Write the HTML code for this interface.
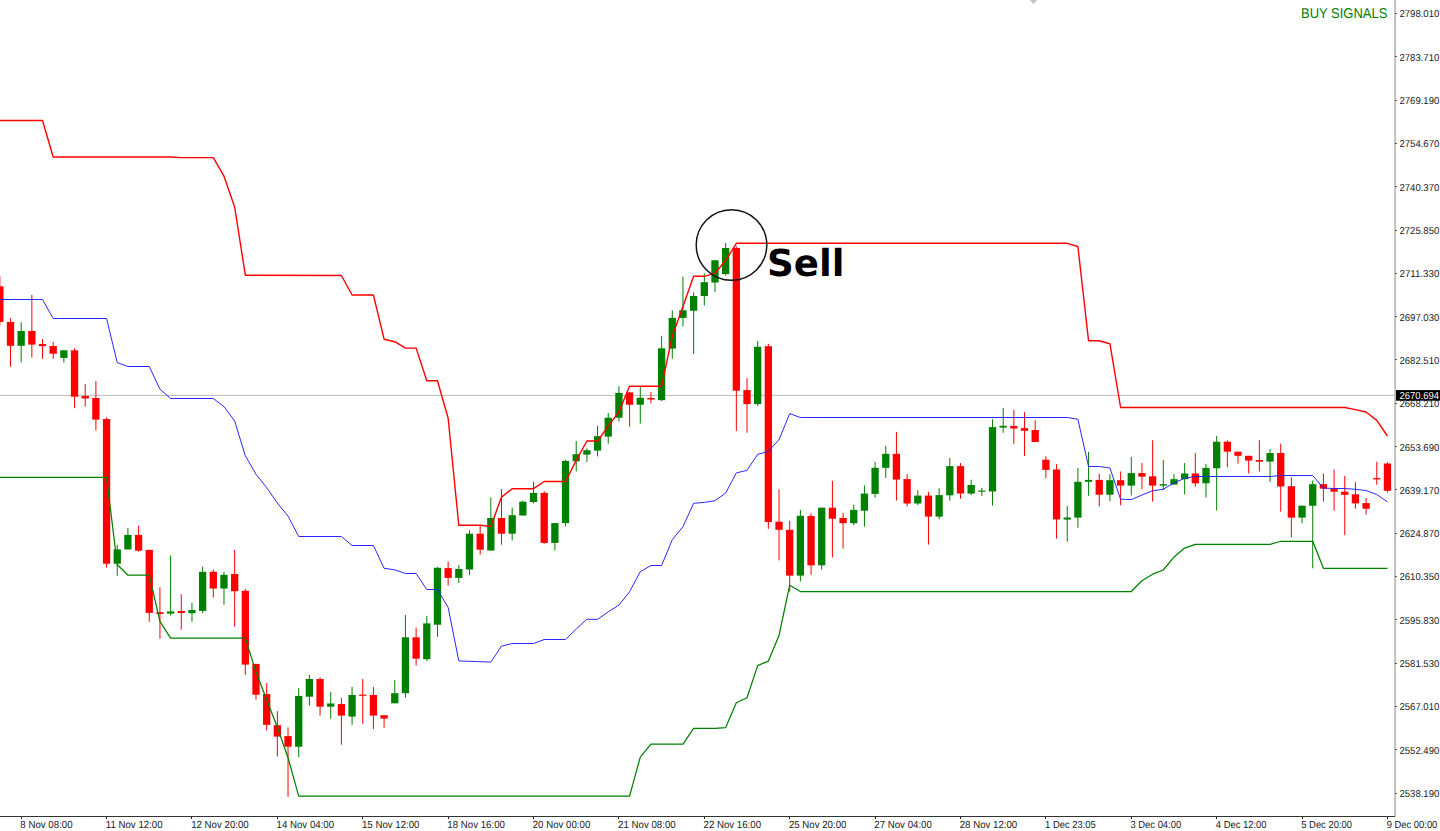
<!DOCTYPE html>
<html><head><meta charset="utf-8"><title>Chart</title>
<style>
html,body{margin:0;padding:0;background:#fff;}
body{width:1440px;height:831px;overflow:hidden;}
svg{display:block;}
text{text-rendering:geometricPrecision;}
</style></head><body>
<svg width="1440" height="831" viewBox="0 0 1440 831" font-family="Liberation Sans, Arial, sans-serif">
<rect x="0" y="0" width="1440" height="831" fill="#fff"/>
<rect x="0" y="394.9" width="1395" height="1.1" fill="#c0c0c0"/>
<rect x="-0.67" y="275.9" width="1" height="49.7" fill="#ff0000"/>
<rect x="-3.82" y="286.3" width="7.3" height="35.6" fill="#ff0000"/>
<rect x="10" y="318" width="1" height="48.8" fill="#ff0000"/>
<rect x="6.85" y="321.9" width="7.3" height="23.9" fill="#ff0000"/>
<rect x="20.67" y="322.2" width="1" height="40.1" fill="#008000"/>
<rect x="17.52" y="331" width="7.3" height="14.8" fill="#008000"/>
<rect x="31.35" y="294.9" width="1" height="62.7" fill="#ff0000"/>
<rect x="28.2" y="331" width="7.3" height="13.6" fill="#ff0000"/>
<rect x="42.02" y="339" width="1" height="19.9" fill="#ff0000"/>
<rect x="38.87" y="344.1" width="7.3" height="2" fill="#ff0000"/>
<rect x="52.7" y="341.9" width="1" height="17" fill="#ff0000"/>
<rect x="49.55" y="346" width="7.3" height="7.7" fill="#ff0000"/>
<rect x="63.37" y="350.3" width="1" height="12.3" fill="#008000"/>
<rect x="60.22" y="350.3" width="7.3" height="7.6" fill="#008000"/>
<rect x="74.04" y="348.3" width="1" height="59.8" fill="#ff0000"/>
<rect x="70.89" y="350.3" width="7.3" height="46.4" fill="#ff0000"/>
<rect x="84.72" y="384.2" width="1" height="22.5" fill="#ff0000"/>
<rect x="81.57" y="396" width="7.3" height="2.5" fill="#ff0000"/>
<rect x="95.39" y="381" width="1" height="49.5" fill="#ff0000"/>
<rect x="92.24" y="398" width="7.3" height="21.6" fill="#ff0000"/>
<rect x="106.07" y="417.4" width="1" height="150.2" fill="#ff0000"/>
<rect x="102.92" y="419" width="7.3" height="144.7" fill="#ff0000"/>
<rect x="116.74" y="544.8" width="1" height="30.9" fill="#008000"/>
<rect x="113.59" y="549.4" width="7.3" height="14.3" fill="#008000"/>
<rect x="127.41" y="528" width="1" height="21.4" fill="#008000"/>
<rect x="124.26" y="534.9" width="7.3" height="14.5" fill="#008000"/>
<rect x="138.09" y="525.5" width="1" height="26.1" fill="#ff0000"/>
<rect x="134.94" y="534.9" width="7.3" height="15.8" fill="#ff0000"/>
<rect x="148.76" y="549.9" width="1" height="71.9" fill="#ff0000"/>
<rect x="145.61" y="549.9" width="7.3" height="63" fill="#ff0000"/>
<rect x="159.44" y="587.3" width="1" height="51.3" fill="#ff0000"/>
<rect x="156.29" y="612.2" width="7.3" height="1.7" fill="#ff0000"/>
<rect x="170.11" y="555.3" width="1" height="60.2" fill="#008000"/>
<rect x="166.96" y="611.4" width="7.3" height="2.2" fill="#008000"/>
<rect x="180.78" y="594.2" width="1" height="35.5" fill="#ff0000"/>
<rect x="177.63" y="611.1" width="7.3" height="1.9" fill="#ff0000"/>
<rect x="191.46" y="603" width="1" height="18.8" fill="#008000"/>
<rect x="188.31" y="610" width="7.3" height="3.2" fill="#008000"/>
<rect x="202.13" y="566.7" width="1" height="46.5" fill="#008000"/>
<rect x="198.98" y="571.8" width="7.3" height="39.1" fill="#008000"/>
<rect x="212.81" y="569.3" width="1" height="28.1" fill="#ff0000"/>
<rect x="209.66" y="571.8" width="7.3" height="16.7" fill="#ff0000"/>
<rect x="223.48" y="571.8" width="1" height="32.9" fill="#008000"/>
<rect x="220.33" y="574.8" width="7.3" height="13.7" fill="#008000"/>
<rect x="234.15" y="549.9" width="1" height="76.8" fill="#ff0000"/>
<rect x="231" y="574" width="7.3" height="17.2" fill="#ff0000"/>
<rect x="244.83" y="588.8" width="1" height="86" fill="#ff0000"/>
<rect x="241.68" y="590.8" width="7.3" height="73.8" fill="#ff0000"/>
<rect x="255.5" y="663.9" width="1" height="35.7" fill="#ff0000"/>
<rect x="252.35" y="663.9" width="7.3" height="30.8" fill="#ff0000"/>
<rect x="266.18" y="683" width="1" height="47.4" fill="#ff0000"/>
<rect x="263.03" y="694.1" width="7.3" height="30.7" fill="#ff0000"/>
<rect x="276.85" y="711.2" width="1" height="45.3" fill="#ff0000"/>
<rect x="273.7" y="725.2" width="7.3" height="11.4" fill="#ff0000"/>
<rect x="287.52" y="727.4" width="1" height="69.4" fill="#ff0000"/>
<rect x="284.37" y="736.1" width="7.3" height="10.6" fill="#ff0000"/>
<rect x="298.2" y="688" width="1" height="69.2" fill="#008000"/>
<rect x="295.05" y="695.9" width="7.3" height="50.8" fill="#008000"/>
<rect x="308.87" y="674.8" width="1" height="30.9" fill="#008000"/>
<rect x="305.72" y="679" width="7.3" height="17.7" fill="#008000"/>
<rect x="319.55" y="677.3" width="1" height="38.3" fill="#ff0000"/>
<rect x="316.4" y="679" width="7.3" height="27.7" fill="#ff0000"/>
<rect x="330.22" y="692" width="1" height="26.8" fill="#008000"/>
<rect x="327.07" y="703.5" width="7.3" height="3.2" fill="#008000"/>
<rect x="340.89" y="698" width="1" height="46.7" fill="#ff0000"/>
<rect x="337.74" y="704.1" width="7.3" height="11.5" fill="#ff0000"/>
<rect x="351.57" y="687" width="1" height="37.8" fill="#008000"/>
<rect x="348.42" y="695" width="7.3" height="21.6" fill="#008000"/>
<rect x="362.24" y="679" width="1" height="44.7" fill="#ff0000"/>
<rect x="359.09" y="694.6" width="7.3" height="1.2" fill="#ff0000"/>
<rect x="372.92" y="687" width="1" height="42" fill="#ff0000"/>
<rect x="369.77" y="695" width="7.3" height="20.6" fill="#ff0000"/>
<rect x="383.59" y="715.2" width="1" height="12.5" fill="#ff0000"/>
<rect x="380.44" y="715.2" width="7.3" height="3.4" fill="#ff0000"/>
<rect x="394.26" y="680.2" width="1" height="23.1" fill="#008000"/>
<rect x="391.11" y="693.2" width="7.3" height="10.1" fill="#008000"/>
<rect x="404.94" y="615" width="1" height="82.6" fill="#008000"/>
<rect x="401.79" y="637.3" width="7.3" height="55.9" fill="#008000"/>
<rect x="415.61" y="627.6" width="1" height="37.9" fill="#ff0000"/>
<rect x="412.46" y="637.3" width="7.3" height="21.4" fill="#ff0000"/>
<rect x="426.29" y="615.8" width="1" height="45.2" fill="#008000"/>
<rect x="423.14" y="623.4" width="7.3" height="35.8" fill="#008000"/>
<rect x="436.96" y="567" width="1" height="69.8" fill="#008000"/>
<rect x="433.81" y="567.8" width="7.3" height="56.9" fill="#008000"/>
<rect x="447.63" y="561.6" width="1" height="23.9" fill="#ff0000"/>
<rect x="444.48" y="568.1" width="7.3" height="9.8" fill="#ff0000"/>
<rect x="458.31" y="565" width="1" height="18" fill="#008000"/>
<rect x="455.16" y="569" width="7.3" height="8.9" fill="#008000"/>
<rect x="468.98" y="530.3" width="1" height="44.7" fill="#008000"/>
<rect x="465.83" y="533.7" width="7.3" height="35.8" fill="#008000"/>
<rect x="479.66" y="525.8" width="1" height="28.8" fill="#ff0000"/>
<rect x="476.51" y="533.7" width="7.3" height="16" fill="#ff0000"/>
<rect x="490.33" y="497.5" width="1" height="53" fill="#008000"/>
<rect x="487.18" y="518" width="7.3" height="32.5" fill="#008000"/>
<rect x="501" y="489" width="1" height="55.6" fill="#ff0000"/>
<rect x="497.85" y="518" width="7.3" height="15.7" fill="#ff0000"/>
<rect x="511.68" y="507.6" width="1" height="32.8" fill="#008000"/>
<rect x="508.53" y="515.2" width="7.3" height="18.5" fill="#008000"/>
<rect x="522.35" y="500.5" width="1" height="15" fill="#008000"/>
<rect x="519.2" y="501.7" width="7.3" height="13.8" fill="#008000"/>
<rect x="533.03" y="481.8" width="1" height="21.6" fill="#008000"/>
<rect x="529.88" y="492.9" width="7.3" height="9.1" fill="#008000"/>
<rect x="543.7" y="491.1" width="1" height="52.7" fill="#ff0000"/>
<rect x="540.55" y="492.9" width="7.3" height="50" fill="#ff0000"/>
<rect x="554.37" y="523" width="1" height="27.4" fill="#008000"/>
<rect x="551.22" y="523.1" width="7.3" height="19.8" fill="#008000"/>
<rect x="565.05" y="460" width="1" height="66.4" fill="#008000"/>
<rect x="561.9" y="460.9" width="7.3" height="62.2" fill="#008000"/>
<rect x="575.72" y="441" width="1" height="30.4" fill="#008000"/>
<rect x="572.57" y="454.2" width="7.3" height="7.1" fill="#008000"/>
<rect x="586.4" y="448.3" width="1" height="13.7" fill="#008000"/>
<rect x="583.25" y="450.2" width="7.3" height="4.4" fill="#008000"/>
<rect x="597.07" y="425.8" width="1" height="30.6" fill="#008000"/>
<rect x="593.92" y="436.2" width="7.3" height="14.4" fill="#008000"/>
<rect x="607.74" y="413" width="1" height="30.7" fill="#008000"/>
<rect x="604.59" y="417.7" width="7.3" height="18.9" fill="#008000"/>
<rect x="618.42" y="386.2" width="1" height="35.2" fill="#008000"/>
<rect x="615.27" y="392.9" width="7.3" height="24.8" fill="#008000"/>
<rect x="629.09" y="392" width="1" height="34.6" fill="#ff0000"/>
<rect x="625.94" y="392.4" width="7.3" height="12.3" fill="#ff0000"/>
<rect x="639.77" y="387" width="1" height="36.6" fill="#008000"/>
<rect x="636.62" y="397.8" width="7.3" height="6.9" fill="#008000"/>
<rect x="650.44" y="392.1" width="1" height="11.3" fill="#ff0000"/>
<rect x="647.29" y="398" width="7.3" height="1.5" fill="#ff0000"/>
<rect x="661.11" y="335.8" width="1" height="65" fill="#008000"/>
<rect x="657.96" y="348.3" width="7.3" height="51.9" fill="#008000"/>
<rect x="671.79" y="310.3" width="1" height="48.4" fill="#008000"/>
<rect x="668.64" y="317.9" width="7.3" height="30.7" fill="#008000"/>
<rect x="682.46" y="276.6" width="1" height="49.9" fill="#008000"/>
<rect x="679.31" y="310.3" width="7.3" height="7.6" fill="#008000"/>
<rect x="693.14" y="292.3" width="1" height="61.9" fill="#008000"/>
<rect x="689.99" y="296" width="7.3" height="14.7" fill="#008000"/>
<rect x="703.81" y="273.3" width="1" height="32.3" fill="#008000"/>
<rect x="700.66" y="282.2" width="7.3" height="13.8" fill="#008000"/>
<rect x="714.48" y="260.3" width="1" height="31.5" fill="#008000"/>
<rect x="711.33" y="260.3" width="7.3" height="22.2" fill="#008000"/>
<rect x="725.16" y="243" width="1" height="32.5" fill="#008000"/>
<rect x="722.01" y="248" width="7.3" height="26.1" fill="#008000"/>
<rect x="735.83" y="246.3" width="1" height="184.7" fill="#ff0000"/>
<rect x="732.68" y="248" width="7.3" height="142.7" fill="#ff0000"/>
<rect x="746.51" y="378.2" width="1" height="54.4" fill="#ff0000"/>
<rect x="743.36" y="390.1" width="7.3" height="14" fill="#ff0000"/>
<rect x="757.18" y="341" width="1" height="65" fill="#008000"/>
<rect x="754.03" y="346.8" width="7.3" height="57.3" fill="#008000"/>
<rect x="767.85" y="343.8" width="1" height="185" fill="#ff0000"/>
<rect x="764.7" y="346.2" width="7.3" height="175.8" fill="#ff0000"/>
<rect x="778.53" y="489.2" width="1" height="71.2" fill="#ff0000"/>
<rect x="775.38" y="521.7" width="7.3" height="8.1" fill="#ff0000"/>
<rect x="789.2" y="520.8" width="1" height="70.8" fill="#ff0000"/>
<rect x="786.05" y="529.8" width="7.3" height="45.8" fill="#ff0000"/>
<rect x="799.88" y="509.9" width="1" height="71.6" fill="#008000"/>
<rect x="796.73" y="515.8" width="7.3" height="59.8" fill="#008000"/>
<rect x="810.55" y="513.3" width="1" height="61.4" fill="#ff0000"/>
<rect x="807.4" y="516.1" width="7.3" height="49.2" fill="#ff0000"/>
<rect x="821.22" y="507.7" width="1" height="62" fill="#008000"/>
<rect x="818.07" y="507.7" width="7.3" height="57.6" fill="#008000"/>
<rect x="831.9" y="480.8" width="1" height="76.7" fill="#ff0000"/>
<rect x="828.75" y="507.7" width="7.3" height="11" fill="#ff0000"/>
<rect x="842.57" y="512.9" width="1" height="35.7" fill="#ff0000"/>
<rect x="839.42" y="518" width="7.3" height="5.2" fill="#ff0000"/>
<rect x="853.25" y="504.8" width="1" height="20.2" fill="#008000"/>
<rect x="850.1" y="509.9" width="7.3" height="13.3" fill="#008000"/>
<rect x="863.92" y="485.5" width="1" height="41.2" fill="#008000"/>
<rect x="860.77" y="493.6" width="7.3" height="17.1" fill="#008000"/>
<rect x="874.59" y="461.8" width="1" height="35.8" fill="#008000"/>
<rect x="871.44" y="467.8" width="7.3" height="26.1" fill="#008000"/>
<rect x="885.27" y="445.9" width="1" height="32" fill="#008000"/>
<rect x="882.12" y="453.8" width="7.3" height="14" fill="#008000"/>
<rect x="895.94" y="431.9" width="1" height="68.7" fill="#ff0000"/>
<rect x="892.79" y="453.8" width="7.3" height="25.8" fill="#ff0000"/>
<rect x="906.62" y="474.2" width="1" height="32.3" fill="#ff0000"/>
<rect x="903.47" y="479.1" width="7.3" height="24.4" fill="#ff0000"/>
<rect x="917.29" y="490.2" width="1" height="14.8" fill="#008000"/>
<rect x="914.14" y="495.6" width="7.3" height="7.9" fill="#008000"/>
<rect x="927.96" y="491.9" width="1" height="52.7" fill="#ff0000"/>
<rect x="924.81" y="495.6" width="7.3" height="21" fill="#ff0000"/>
<rect x="938.64" y="488.3" width="1" height="30.9" fill="#008000"/>
<rect x="935.49" y="495.1" width="7.3" height="21.5" fill="#008000"/>
<rect x="949.31" y="458.1" width="1" height="42.6" fill="#008000"/>
<rect x="946.16" y="466.1" width="7.3" height="29.2" fill="#008000"/>
<rect x="959.99" y="463.1" width="1" height="35.6" fill="#ff0000"/>
<rect x="956.84" y="466.1" width="7.3" height="27.4" fill="#ff0000"/>
<rect x="970.66" y="479.7" width="1" height="15.2" fill="#008000"/>
<rect x="967.51" y="485" width="7.3" height="8.6" fill="#008000"/>
<rect x="981.33" y="487.8" width="1" height="8.1" fill="#008000"/>
<rect x="978.18" y="490.5" width="7.3" height="1.2" fill="#008000"/>
<rect x="992.01" y="419.2" width="1" height="86.3" fill="#008000"/>
<rect x="988.86" y="427.1" width="7.3" height="64.4" fill="#008000"/>
<rect x="1002.68" y="407.9" width="1" height="24.9" fill="#008000"/>
<rect x="999.53" y="425.8" width="7.3" height="1.8" fill="#008000"/>
<rect x="1013.36" y="409.8" width="1" height="34.1" fill="#ff0000"/>
<rect x="1010.21" y="426" width="7.3" height="2.5" fill="#ff0000"/>
<rect x="1024.03" y="412.1" width="1" height="43.9" fill="#ff0000"/>
<rect x="1020.88" y="428.1" width="7.3" height="2.7" fill="#ff0000"/>
<rect x="1034.7" y="420.2" width="1" height="21.8" fill="#ff0000"/>
<rect x="1031.55" y="430" width="7.3" height="12" fill="#ff0000"/>
<rect x="1045.38" y="456.4" width="1" height="21.8" fill="#ff0000"/>
<rect x="1042.23" y="459.7" width="7.3" height="10.2" fill="#ff0000"/>
<rect x="1056.05" y="464.1" width="1" height="74.5" fill="#ff0000"/>
<rect x="1052.9" y="469.5" width="7.3" height="49.9" fill="#ff0000"/>
<rect x="1066.73" y="506.1" width="1" height="35.6" fill="#008000"/>
<rect x="1063.58" y="517.5" width="7.3" height="2.1" fill="#008000"/>
<rect x="1077.4" y="468" width="1" height="59.7" fill="#008000"/>
<rect x="1074.25" y="481.8" width="7.3" height="35.8" fill="#008000"/>
<rect x="1088.07" y="452" width="1" height="43.9" fill="#008000"/>
<rect x="1084.92" y="479.9" width="7.3" height="1.9" fill="#008000"/>
<rect x="1098.75" y="473.7" width="1" height="32.8" fill="#ff0000"/>
<rect x="1095.6" y="479.9" width="7.3" height="14.8" fill="#ff0000"/>
<rect x="1109.42" y="474.1" width="1" height="27.2" fill="#008000"/>
<rect x="1106.27" y="480.2" width="7.3" height="14.5" fill="#008000"/>
<rect x="1120.1" y="471.5" width="1" height="33.7" fill="#ff0000"/>
<rect x="1116.95" y="480.2" width="7.3" height="5.4" fill="#ff0000"/>
<rect x="1130.77" y="456.9" width="1" height="38.5" fill="#008000"/>
<rect x="1127.62" y="473.1" width="7.3" height="12.5" fill="#008000"/>
<rect x="1141.44" y="463.1" width="1" height="26.1" fill="#ff0000"/>
<rect x="1138.29" y="473.1" width="7.3" height="3.6" fill="#ff0000"/>
<rect x="1152.12" y="440.2" width="1" height="61.5" fill="#ff0000"/>
<rect x="1148.97" y="476.3" width="7.3" height="9.3" fill="#ff0000"/>
<rect x="1162.79" y="460" width="1" height="30.2" fill="#008000"/>
<rect x="1159.64" y="484.2" width="7.3" height="1.4" fill="#008000"/>
<rect x="1173.47" y="474.2" width="1" height="10.4" fill="#008000"/>
<rect x="1170.32" y="479.2" width="7.3" height="5.4" fill="#008000"/>
<rect x="1184.14" y="463.1" width="1" height="31.3" fill="#008000"/>
<rect x="1180.99" y="473.5" width="7.3" height="5.7" fill="#008000"/>
<rect x="1194.81" y="453.1" width="1" height="33.6" fill="#ff0000"/>
<rect x="1191.66" y="473.5" width="7.3" height="9.8" fill="#ff0000"/>
<rect x="1205.49" y="463.8" width="1" height="33.7" fill="#008000"/>
<rect x="1202.34" y="467.9" width="7.3" height="15.4" fill="#008000"/>
<rect x="1216.16" y="436" width="1" height="74.4" fill="#008000"/>
<rect x="1213.01" y="441.7" width="7.3" height="26.6" fill="#008000"/>
<rect x="1226.84" y="440.2" width="1" height="27.1" fill="#ff0000"/>
<rect x="1223.69" y="441.7" width="7.3" height="10" fill="#ff0000"/>
<rect x="1237.51" y="451.7" width="1" height="11.8" fill="#ff0000"/>
<rect x="1234.36" y="451.7" width="7.3" height="4.1" fill="#ff0000"/>
<rect x="1248.18" y="455.8" width="1" height="17.7" fill="#ff0000"/>
<rect x="1245.03" y="455.8" width="7.3" height="4.8" fill="#ff0000"/>
<rect x="1258.86" y="440.2" width="1" height="31.3" fill="#ff0000"/>
<rect x="1255.71" y="460" width="7.3" height="1.7" fill="#ff0000"/>
<rect x="1269.53" y="449" width="1" height="32.9" fill="#008000"/>
<rect x="1266.38" y="453" width="7.3" height="8.6" fill="#008000"/>
<rect x="1280.21" y="443.6" width="1" height="68.1" fill="#ff0000"/>
<rect x="1277.06" y="453" width="7.3" height="33.5" fill="#ff0000"/>
<rect x="1290.88" y="477.2" width="1" height="60" fill="#ff0000"/>
<rect x="1287.73" y="486.2" width="7.3" height="31.4" fill="#ff0000"/>
<rect x="1301.55" y="505.7" width="1" height="17.6" fill="#008000"/>
<rect x="1298.4" y="505.7" width="7.3" height="11.9" fill="#008000"/>
<rect x="1312.23" y="480.4" width="1" height="87.9" fill="#008000"/>
<rect x="1309.08" y="484.2" width="7.3" height="21.5" fill="#008000"/>
<rect x="1322.9" y="473.5" width="1" height="28" fill="#ff0000"/>
<rect x="1319.75" y="484.2" width="7.3" height="4.5" fill="#ff0000"/>
<rect x="1333.58" y="469.5" width="1" height="41.1" fill="#ff0000"/>
<rect x="1330.43" y="488.8" width="7.3" height="2.9" fill="#ff0000"/>
<rect x="1344.25" y="476" width="1" height="59.2" fill="#ff0000"/>
<rect x="1341.1" y="491.7" width="7.3" height="3.1" fill="#ff0000"/>
<rect x="1354.92" y="482.1" width="1" height="26.5" fill="#ff0000"/>
<rect x="1351.77" y="494.3" width="7.3" height="9.1" fill="#ff0000"/>
<rect x="1365.6" y="498" width="1" height="16.7" fill="#ff0000"/>
<rect x="1362.45" y="503.1" width="7.3" height="5.6" fill="#ff0000"/>
<rect x="1376.27" y="461.7" width="1" height="23" fill="#ff0000"/>
<rect x="1373.12" y="478.1" width="7.3" height="1.3" fill="#ff0000"/>
<rect x="1386.95" y="462.2" width="1" height="30.3" fill="#ff0000"/>
<rect x="1383.8" y="463.5" width="7.3" height="27.3" fill="#ff0000"/>
<polyline points="-5.51,299.5 42.52,299.5 53.2,318.5 106.57,318.5 117.24,362.6 127.91,366.5 149.26,366.5 159.94,389.2 170.61,398.5 213.31,398.5 223.98,406.6 234.65,421 245.33,455.8 256,474.3 266.68,487.6 277.35,503 288.02,516.1 298.7,536.5 341.39,536.5 352.07,545.5 373.42,545.5 384.09,568.3 394.76,569.8 405.44,573.5 416.11,573.5 426.79,589.5 437.46,589.5 448.13,607.4 458.81,660.9 490.83,662.1 501.5,646.1 512.18,643.5 533.53,643.5 544.2,639.5 565.55,639.5 576.22,629 586.9,619.2 597.57,619.4 608.24,611.8 618.92,605.1 629.59,591.7 640.27,571.7 650.94,565.5 661.61,565.5 672.29,539.7 682.96,526.7 693.64,503.3 704.31,502.4 714.98,500.7 725.66,493.1 736.33,472.9 747.01,470.3 757.68,454.3 768.35,451.5 779.03,439.6 789.7,413.6 800.38,417.5 1067.23,417.5 1077.9,419.3 1088.57,466.5 1099.25,466.5 1109.92,468 1120.6,499.2 1131.27,499.6 1141.94,495 1152.62,490.8 1163.29,489.2 1173.97,482.9 1184.64,478.3 1195.31,476.5 1270.03,476.5 1280.71,475.5 1312.73,475.5 1323.4,488.1 1334.08,488.5 1344.75,488.5 1355.42,489.3 1366.1,490.5 1376.77,494.5 1387.45,501.8" fill="none" stroke="#1e1eff" stroke-width="0.95" stroke-linejoin="round"/>
<polyline points="-5.51,120.5 42.52,120.5 53.2,157 170.61,157 181.28,157.6 213.31,157.6 223.98,176.2 234.65,207 245.33,275.2 341.39,275.5 352.07,295 373.42,295 384.09,339.2 394.76,341.7 405.44,348.1 416.11,348.1 426.79,380.8 437.46,380.8 448.13,418 458.81,525.3 480.16,525.3 490.83,526.4 501.5,497.1 512.18,488.7 533.53,488.7 544.2,481.5 565.55,481.5 576.22,460.4 586.9,441 597.57,441 608.24,426.1 618.92,411.8 629.59,386.2 661.61,386.2 672.29,336 682.96,306.5 693.64,276.3 704.31,276.3 714.98,273.3 725.66,260.5 736.33,243.3 1067.23,243.3 1077.9,246.5 1088.57,340.8 1099.25,340.8 1109.92,343.7 1120.6,407.5 1344.75,407.5 1355.42,409.6 1366.1,412 1376.77,420.4 1387.45,436" fill="none" stroke="#ff0000" stroke-width="1.4" stroke-linejoin="round"/>
<polyline points="-5.51,477.3 106.57,477.3 117.24,564.5 127.91,575.2 149.26,575.2 159.94,621.3 170.61,638.1 245.33,638.1 256,672.1 266.68,699.7 277.35,727.3 288.02,757.7 298.7,796.1 629.59,796.1 640.27,757.1 650.94,744.1 682.96,744.1 693.64,728.4 714.98,728.4 725.66,727.6 736.33,702.7 747.01,697.8 757.68,665.6 768.35,661.1 779.03,635.4 789.7,585.2 800.38,591.5 1131.27,591.5 1141.94,580.8 1152.62,574.2 1163.29,570 1173.97,557.1 1184.64,548.1 1195.31,544.4 1270.03,544.4 1280.71,541.25 1312.73,541.25 1323.4,568.3 1387.45,568.3" fill="none" stroke="#008000" stroke-width="1.25" stroke-linejoin="round"/>
<circle cx="731.5" cy="245" r="35.3" fill="none" stroke="#111" stroke-width="1.45"/>
<text x="767" y="275.5" font-family="DejaVu Sans, Verdana, sans-serif" font-weight="bold" font-size="37.2" fill="#000">Sell</text>
<polygon points="1029.8,0 1037,0 1033.4,4" fill="#c0c0c0"/>
<text x="1301" y="17.8" font-family="Liberation Sans, Arial, sans-serif" font-size="14.2" textLength="86.4" lengthAdjust="spacingAndGlyphs" fill="#008000">BUY SIGNALS</text>
<rect x="1394.3" y="0" width="1.6" height="816.9" fill="#b4b4b4"/>
<rect x="0" y="816" width="1394.8" height="1" fill="#333"/>
<rect x="1395" y="13" width="2" height="1" fill="#555"/>
<text x="1399.5" y="17.3" font-size="10.0" textLength="39.8" lengthAdjust="spacingAndGlyphs" fill="#1a1a1a">2798.010</text>
<rect x="1395" y="56" width="2" height="1" fill="#555"/>
<text x="1399.5" y="60.62" font-size="10.0" textLength="39.8" lengthAdjust="spacingAndGlyphs" fill="#1a1a1a">2783.710</text>
<rect x="1395" y="100" width="2" height="1" fill="#555"/>
<text x="1399.5" y="103.94" font-size="10.0" textLength="39.8" lengthAdjust="spacingAndGlyphs" fill="#1a1a1a">2769.190</text>
<rect x="1395" y="143" width="2" height="1" fill="#555"/>
<text x="1399.5" y="147.26" font-size="10.0" textLength="39.8" lengthAdjust="spacingAndGlyphs" fill="#1a1a1a">2754.670</text>
<rect x="1395" y="186" width="2" height="1" fill="#555"/>
<text x="1399.5" y="190.58" font-size="10.0" textLength="39.8" lengthAdjust="spacingAndGlyphs" fill="#1a1a1a">2740.370</text>
<rect x="1395" y="230" width="2" height="1" fill="#555"/>
<text x="1399.5" y="233.9" font-size="10.0" textLength="39.8" lengthAdjust="spacingAndGlyphs" fill="#1a1a1a">2725.850</text>
<rect x="1395" y="273" width="2" height="1" fill="#555"/>
<text x="1399.5" y="277.22" font-size="10.0" textLength="39.8" lengthAdjust="spacingAndGlyphs" fill="#1a1a1a">2711.330</text>
<rect x="1395" y="316" width="2" height="1" fill="#555"/>
<text x="1399.5" y="320.54" font-size="10.0" textLength="39.8" lengthAdjust="spacingAndGlyphs" fill="#1a1a1a">2697.030</text>
<rect x="1395" y="359" width="2" height="1" fill="#555"/>
<text x="1399.5" y="363.86" font-size="10.0" textLength="39.8" lengthAdjust="spacingAndGlyphs" fill="#1a1a1a">2682.510</text>
<rect x="1395" y="403" width="2" height="1" fill="#555"/>
<text x="1399.5" y="407.18" font-size="10.0" textLength="39.8" lengthAdjust="spacingAndGlyphs" fill="#1a1a1a">2668.210</text>
<rect x="1395" y="446" width="2" height="1" fill="#555"/>
<text x="1399.5" y="450.5" font-size="10.0" textLength="39.8" lengthAdjust="spacingAndGlyphs" fill="#1a1a1a">2653.690</text>
<rect x="1395" y="489" width="2" height="1" fill="#555"/>
<text x="1399.5" y="493.82" font-size="10.0" textLength="39.8" lengthAdjust="spacingAndGlyphs" fill="#1a1a1a">2639.170</text>
<rect x="1395" y="533" width="2" height="1" fill="#555"/>
<text x="1399.5" y="537.14" font-size="10.0" textLength="39.8" lengthAdjust="spacingAndGlyphs" fill="#1a1a1a">2624.870</text>
<rect x="1395" y="576" width="2" height="1" fill="#555"/>
<text x="1399.5" y="580.46" font-size="10.0" textLength="39.8" lengthAdjust="spacingAndGlyphs" fill="#1a1a1a">2610.350</text>
<rect x="1395" y="619" width="2" height="1" fill="#555"/>
<text x="1399.5" y="623.78" font-size="10.0" textLength="39.8" lengthAdjust="spacingAndGlyphs" fill="#1a1a1a">2595.830</text>
<rect x="1395" y="663" width="2" height="1" fill="#555"/>
<text x="1399.5" y="667.1" font-size="10.0" textLength="39.8" lengthAdjust="spacingAndGlyphs" fill="#1a1a1a">2581.530</text>
<rect x="1395" y="706" width="2" height="1" fill="#555"/>
<text x="1399.5" y="710.42" font-size="10.0" textLength="39.8" lengthAdjust="spacingAndGlyphs" fill="#1a1a1a">2567.010</text>
<rect x="1395" y="749" width="2" height="1" fill="#555"/>
<text x="1399.5" y="753.74" font-size="10.0" textLength="39.8" lengthAdjust="spacingAndGlyphs" fill="#1a1a1a">2552.490</text>
<rect x="1395" y="793" width="2" height="1" fill="#555"/>
<text x="1399.5" y="797.06" font-size="10.0" textLength="39.8" lengthAdjust="spacingAndGlyphs" fill="#1a1a1a">2538.190</text>
<rect x="1396" y="390.1" width="44" height="10.6" fill="#000"/>
<text x="1399.5" y="399.1" font-size="10.2" textLength="39.5" lengthAdjust="spacingAndGlyphs" fill="#fff">2670.694</text>
<rect x="21" y="817" width="1" height="2" fill="#222"/>
<text x="20.37" y="827.9" font-size="10.3" textLength="52.25" lengthAdjust="spacingAndGlyphs" fill="#1a1a1a">8 Nov 08:00</text>
<rect x="106" y="817" width="1" height="2" fill="#222"/>
<text x="105.77" y="827.9" font-size="10.3" textLength="56.86" lengthAdjust="spacingAndGlyphs" fill="#1a1a1a">11 Nov 12:00</text>
<rect x="191" y="817" width="1" height="2" fill="#222"/>
<text x="191.16" y="827.9" font-size="10.3" textLength="57.58" lengthAdjust="spacingAndGlyphs" fill="#1a1a1a">12 Nov 20:00</text>
<rect x="277" y="817" width="1" height="2" fill="#222"/>
<text x="276.55" y="827.9" font-size="10.3" textLength="57.58" lengthAdjust="spacingAndGlyphs" fill="#1a1a1a">14 Nov 04:00</text>
<rect x="362" y="817" width="1" height="2" fill="#222"/>
<text x="361.94" y="827.9" font-size="10.3" textLength="57.58" lengthAdjust="spacingAndGlyphs" fill="#1a1a1a">15 Nov 12:00</text>
<rect x="448" y="817" width="1" height="2" fill="#222"/>
<text x="447.33" y="827.9" font-size="10.3" textLength="57.58" lengthAdjust="spacingAndGlyphs" fill="#1a1a1a">18 Nov 16:00</text>
<rect x="533" y="817" width="1" height="2" fill="#222"/>
<text x="532.73" y="827.9" font-size="10.3" textLength="57.58" lengthAdjust="spacingAndGlyphs" fill="#1a1a1a">20 Nov 00:00</text>
<rect x="618" y="817" width="1" height="2" fill="#222"/>
<text x="618.12" y="827.9" font-size="10.3" textLength="57.58" lengthAdjust="spacingAndGlyphs" fill="#1a1a1a">21 Nov 08:00</text>
<rect x="704" y="817" width="1" height="2" fill="#222"/>
<text x="703.51" y="827.9" font-size="10.3" textLength="57.58" lengthAdjust="spacingAndGlyphs" fill="#1a1a1a">22 Nov 16:00</text>
<rect x="789" y="817" width="1" height="2" fill="#222"/>
<text x="788.9" y="827.9" font-size="10.3" textLength="57.58" lengthAdjust="spacingAndGlyphs" fill="#1a1a1a">25 Nov 20:00</text>
<rect x="875" y="817" width="1" height="2" fill="#222"/>
<text x="874.29" y="827.9" font-size="10.3" textLength="57.58" lengthAdjust="spacingAndGlyphs" fill="#1a1a1a">27 Nov 04:00</text>
<rect x="960" y="817" width="1" height="2" fill="#222"/>
<text x="959.69" y="827.9" font-size="10.3" textLength="57.58" lengthAdjust="spacingAndGlyphs" fill="#1a1a1a">28 Nov 12:00</text>
<rect x="1045" y="817" width="1" height="2" fill="#222"/>
<text x="1045.08" y="827.9" font-size="10.3" textLength="50.7" lengthAdjust="spacingAndGlyphs" fill="#1a1a1a">1 Dec 23:05</text>
<rect x="1131" y="817" width="1" height="2" fill="#222"/>
<text x="1130.47" y="827.9" font-size="10.3" textLength="50.7" lengthAdjust="spacingAndGlyphs" fill="#1a1a1a">3 Dec 04:00</text>
<rect x="1216" y="817" width="1" height="2" fill="#222"/>
<text x="1215.86" y="827.9" font-size="10.3" textLength="50.7" lengthAdjust="spacingAndGlyphs" fill="#1a1a1a">4 Dec 12:00</text>
<rect x="1302" y="817" width="1" height="2" fill="#222"/>
<text x="1301.25" y="827.9" font-size="10.3" textLength="50.7" lengthAdjust="spacingAndGlyphs" fill="#1a1a1a">5 Dec 20:00</text>
<rect x="1387" y="817" width="1" height="2" fill="#222"/>
<text x="1386.65" y="827.9" font-size="10.3" textLength="50.7" lengthAdjust="spacingAndGlyphs" fill="#1a1a1a">9 Dec 00:00</text>
</svg>
</body></html>
